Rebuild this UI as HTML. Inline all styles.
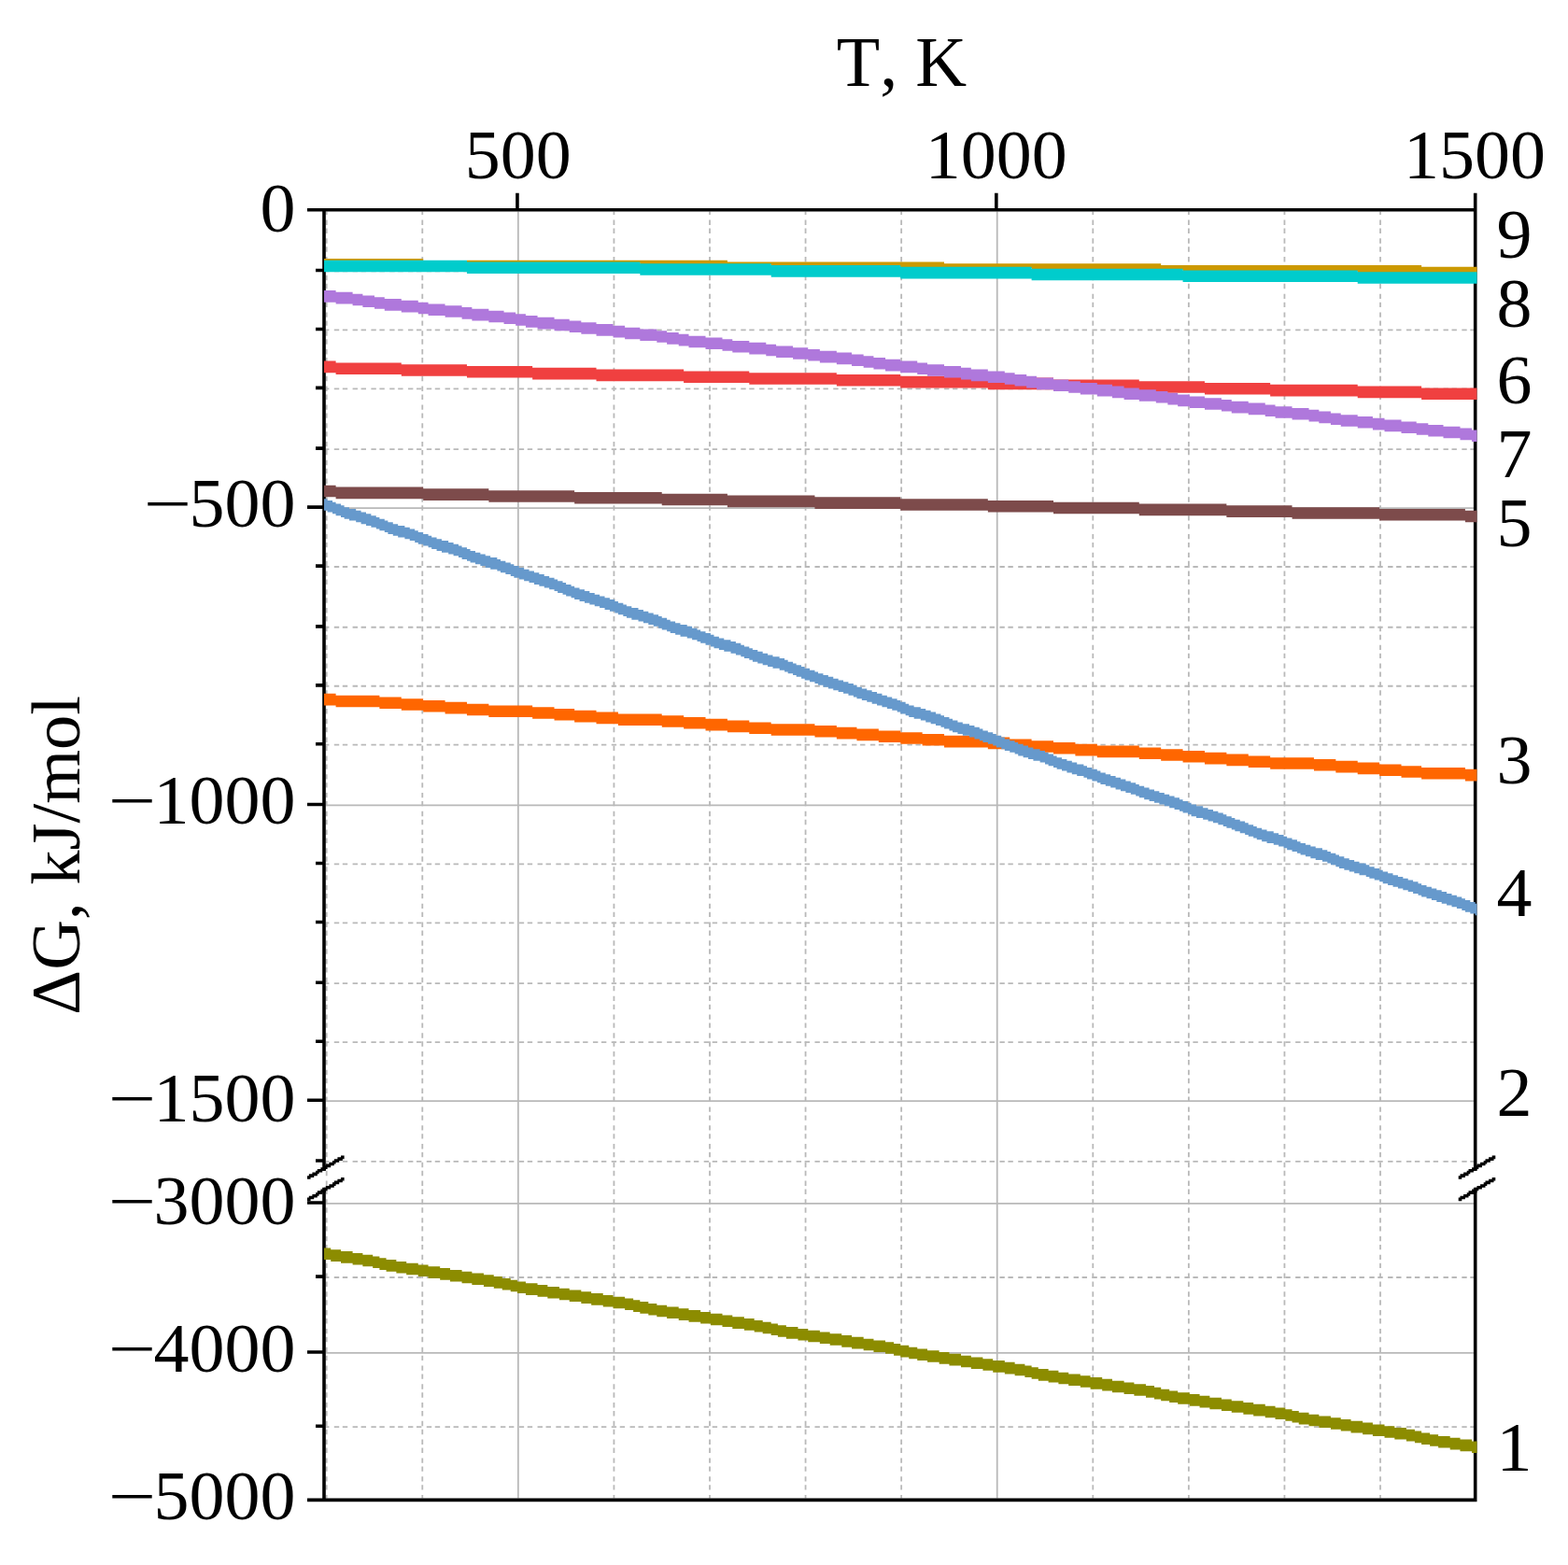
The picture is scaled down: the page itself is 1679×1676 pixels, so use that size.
<!DOCTYPE html>
<html lang="en"><head><meta charset="utf-8"><title>ΔG, kJ/mol vs T, K</title>
<style>
html,body{margin:0;padding:0;background:#fff}
body{width:1679px;height:1676px;overflow:hidden}
svg{display:block}
text{font-family:"Liberation Serif","DejaVu Serif",serif;font-size:76px;fill:#000;font-kerning:none}
</style>
</head><body>
<svg width="1679" height="1676" viewBox="0 0 1679 1676" role="img" aria-label="ΔG, kJ/mol versus T, K">
<rect x="0" y="0" width="1679" height="1676" fill="#fff"/>
<g transform="translate(-0.315 -0.18) scale(1.79956 1.79906)">
<g stroke="#b9b9b9" stroke-width="1" fill="none">
<g stroke-dasharray="3 2 3 3" stroke-dashoffset="6">
<path d="M194.5 126V892"/>
<path d="M251.5 126V892"/>
<path d="M365.5 126V892"/>
<path d="M422.5 126V892"/>
<path d="M479.5 126V892"/>
<path d="M536.5 126V892"/>
<path d="M650.5 126V892"/>
<path d="M707.5 126V892"/>
<path d="M764.5 126V892"/>
<path d="M821.5 126V892"/>
<path d="M194 161.5H877"/>
<path d="M194 196.5H877"/>
<path d="M194 231.5H877"/>
<path d="M194 267.5H877"/>
<path d="M194 337.5H877"/>
<path d="M194 373.5H877"/>
<path d="M194 408.5H877"/>
<path d="M194 443.5H877"/>
<path d="M194 514.5H877"/>
<path d="M194 549.5H877"/>
<path d="M194 585.5H877"/>
<path d="M194 620.5H877"/>
<path d="M194 691.5H877"/>
<path d="M194 760.5H877"/>
<path d="M194 849.5H877"/>
</g>
<path d="M308.5 126V892"/>
<path d="M593.5 126V892"/>
<path d="M194 302.5H877"/>
<path d="M194 479.5H877"/>
<path d="M194 655.5H877"/>
<path d="M194 716.5H877"/>
<path d="M194 805.5H877"/>
</g>
<g fill="#000">
<path d="M183 124H879V126H183ZM183 892H879V894H183ZM192 124H194V697H192ZM192 707H194V894H192ZM877 115H879V697H877ZM877 707H879V894H877ZM307 115H309V125H307ZM592 115H594V125H592ZM183 301H193V303H183ZM183 478H193V480H183ZM183 654H193V656H183ZM183 715H193V717H183ZM183 804H193V806H183ZM188 160H193V162H188ZM188 195H193V197H188ZM188 230H193V232H188ZM188 266H193V268H188ZM188 336H193V338H188ZM188 372H193V374H188ZM188 407H193V409H188ZM188 442H193V444H188ZM188 513H193V515H188ZM188 548H193V550H188ZM188 584H193V586H188ZM188 619H193V621H188ZM188 690H193V692H188ZM188 759H193V761H188ZM188 848H193V850H188Z"/>
<path d="M183 700L184 700L184 699L186 699L186 698L188 698L188 697L189 697L189 696L191 696L191 695L193 695L193 694L194 694L194 693L196 693L196 692L198 692L198 691L199 691L199 690L201 690L201 689L203 689L203 688L205 688L205 690L204 690L204 691L202 691L202 692L200 692L200 693L199 693L199 694L197 694L197 695L195 695L195 696L194 696L194 697L192 697L192 698L190 698L190 699L189 699L189 700L187 700L187 701L185 701L185 702L183 702ZM183 713L184 713L184 712L186 712L186 711L188 711L188 710L189 710L189 709L191 709L191 708L193 708L193 707L194 707L194 706L196 706L196 705L198 705L198 704L199 704L199 703L201 703L201 702L203 702L203 701L205 701L205 703L204 703L204 704L202 704L202 705L200 705L200 706L199 706L199 707L197 707L197 708L195 708L195 709L194 709L194 710L192 710L192 711L190 711L190 712L189 712L189 713L187 713L187 714L185 714L185 715L183 715ZM868 700L869 700L869 699L871 699L871 698L873 698L873 697L874 697L874 696L876 696L876 695L878 695L878 694L879 694L879 693L881 693L881 692L883 692L883 691L884 691L884 690L886 690L886 689L888 689L888 688L890 688L890 690L889 690L889 691L887 691L887 692L885 692L885 693L884 693L884 694L882 694L882 695L880 695L880 696L879 696L879 697L877 697L877 698L875 698L875 699L874 699L874 700L872 700L872 701L870 701L870 702L868 702ZM868 713L869 713L869 712L871 712L871 711L873 711L873 710L874 710L874 709L876 709L876 708L878 708L878 707L879 707L879 706L881 706L881 705L883 705L883 704L884 704L884 703L886 703L886 702L888 702L888 701L890 701L890 703L889 703L889 704L887 704L887 705L885 705L885 706L884 706L884 707L882 707L882 708L880 708L880 709L879 709L879 710L877 710L877 711L875 711L875 712L874 712L874 713L872 713L872 714L870 714L870 715L868 715Z"/>
</g>
<g>
<path fill="#8c8c00" d="M193 743H197V744H203V745H210V746H216V747H222V748H226V749H230V750H236V751H242V752H249V753H255V754H262V755H268V756H275V757H281V758H288V759H294V760H299V761H304V762H308V763H313V764H320V765H326V766H333V767H339V768H346V769H352V770H359V771H365V772H372V773H377V774H381V775H386V776H391V777H397V778H404V779H410V780H417V781H423V782H430V783H436V784H443V785H449V786H454V787H459V788H463V789H468V790H475V791H481V792H488V793H494V794H501V795H507V796H514V797H520V798H527V799H532V800H536V801H541V802H546V803H552V804H559V805H565V806H572V807H578V808H585V809H591V810H598V811H604V812H610V813H614V814H618V815H624V816H630V817H636V818H643V819H649V820H656V821H662V822H669V823H675V824H682V825H687V826H691V827H696V828H701V829H708V830H714V831H720V832H727V833H733V834H740V835H746V836H753V837H759V838H765V839H769V840H773V841H779V842H785V843H792V844H798V845H804V846H811V847H817V848H824V849H830V850H837V851H842V852H846V853H851V854H856V855H863V856H869V857H876V858H879V865H876V864H869V863H863V862H856V861H851V860H846V859H842V858H837V857H830V856H824V855H817V854H811V853H804V852H798V851H792V850H785V849H779V848H773V847H769V846H765V845H759V844H753V843H746V842H740V841H733V840H727V839H720V838H714V837H708V836H701V835H696V834H691V833H687V832H682V831H675V830H669V829H662V828H656V827H649V826H643V825H636V824H630V823H624V822H618V821H614V820H610V819H604V818H598V817H591V816H585V815H578V814H572V813H565V812H559V811H552V810H546V809H541V808H536V807H532V806H527V805H520V804H514V803H507V802H501V801H494V800H488V799H481V798H475V797H468V796H463V795H459V794H454V793H449V792H443V791H436V790H430V789H423V788H417V787H410V786H404V785H397V784H391V783H386V782H381V781H377V780H372V779H365V778H359V777H352V776H346V775H339V774H333V773H326V772H320V771H313V770H308V769H304V768H299V767H294V766H288V765H281V764H275V763H268V762H262V761H255V760H249V759H242V758H236V757H230V756H226V755H222V754H216V753H210V752H203V751H197V750H193Z"/>
<path fill="#ff6600" d="M193 413H200V414H226V415H239V416H252V417H265V418H278V419H291V420H317V421H330V422H342V423H355V424H368V425H394V426H407V427H420V428H433V429H446V430H459V431H485V432H498V433H510V434H523V435H536V436H549V437H562V438H588V439H601V440H614V441H627V442H640V443H653V444H678V445H691V446H704V447H717V448H730V449H743V450H756V451H782V452H795V453H808V454H821V455H834V456H846V457H872V458H879V465H872V464H846V463H834V462H821V461H808V460H795V459H782V458H756V457H743V456H730V455H717V454H704V453H691V452H678V451H653V450H640V449H627V448H614V447H601V446H588V445H562V444H549V443H536V442H523V441H510V440H498V439H485V438H459V437H446V436H433V435H420V434H407V433H394V432H368V431H355V430H342V429H330V428H317V427H291V426H278V425H265V424H252V423H239V422H226V421H200V420H193Z"/>
<path fill="#6699cc" d="M193 297H195V298H198V299H200V300H203V301H205V302H208V303H212V304H215V305H218V306H221V307H224V308H226V309H229V310H231V311H234V312H237V313H241V314H244V315H247V316H249V317H252V318H255V319H257V320H260V321H263V322H267V323H270V324H273V325H275V326H278V327H280V328H283V329H286V330H289V331H292V332H296V333H298V334H301V335H304V336H306V337H309V338H312V339H315V340H318V341H321V342H324V343H327V344H330V345H332V346H335V347H337V348H340V349H342V350H345V351H348V352H351V353H354V354H357V355H360V356H363V357H366V358H368V359H371V360H373V361H376V362H380V363H383V364H386V365H389V366H392V367H394V368H397V369H399V370H402V371H405V372H409V373H412V374H415V375H417V376H420V377H423V378H425V379H428V380H431V381H435V382H438V383H441V384H443V385H446V386H448V387H451V388H454V389H457V390H460V391H464V392H467V393H469V394H472V395H474V396H477V397H479V398H482V399H485V400H487V401H490V402H493V403H496V404H499V405H502V406H505V407H508V408H510V409H513V410H516V411H519V412H522V413H525V414H528V415H531V416H534V417H536V418H539V419H541V420H544V421H548V422H551V423H554V424H557V425H560V426H562V427H565V428H567V429H570V430H573V431H577V432H580V433H583V434H585V435H588V436H591V437H593V438H596V439H598V440H601V441H604V442H606V443H609V444H612V445H615V446H619V447H622V448H624V449H627V450H629V451H632V452H635V453H638V454H641V455H645V456H647V457H650V458H653V459H655V460H658V461H661V462H664V463H667V464H670V465H673V466H676V467H678V468H681V469H684V470H687V471H690V472H693V473H696V474H699V475H702V476H704V477H707V478H709V479H712V480H716V481H719V482H722V483H725V484H728V485H730V486H733V487H735V488H738V489H741V490H743V491H746V492H748V493H751V494H754V495H758V496H761V497H764V498H766V499H769V500H772V501H774V502H777V503H780V504H783V505H787V506H790V507H792V508H795V509H797V510H800V511H803V512H806V513H809V514H813V515H815V516H818V517H821V518H823V519H826V520H829V521H832V522H835V523H838V524H841V525H844V526H846V527H849V528H852V529H855V530H858V531H861V532H864V533H867V534H870V535H872V536H875V537H878V538H879V545H878V544H875V543H872V542H870V541H867V540H864V539H861V538H858V537H855V536H852V535H849V534H846V533H844V532H841V531H838V530H835V529H832V528H829V527H826V526H823V525H821V524H818V523H815V522H813V521H809V520H806V519H803V518H800V517H797V516H795V515H792V514H790V513H787V512H783V511H780V510H777V509H774V508H772V507H769V506H766V505H764V504H761V503H758V502H754V501H751V500H748V499H746V498H743V497H741V496H738V495H735V494H733V493H730V492H728V491H725V490H722V489H719V488H716V487H712V486H709V485H707V484H704V483H702V482H699V481H696V480H693V479H690V478H687V477H684V476H681V475H678V474H676V473H673V472H670V471H667V470H664V469H661V468H658V467H655V466H653V465H650V464H647V463H645V462H641V461H638V460H635V459H632V458H629V457H627V456H624V455H622V454H619V453H615V452H612V451H609V450H606V449H604V448H601V447H598V446H596V445H593V444H591V443H588V442H585V441H583V440H580V439H577V438H573V437H570V436H567V435H565V434H562V433H560V432H557V431H554V430H551V429H548V428H544V427H541V426H539V425H536V424H534V423H531V422H528V421H525V420H522V419H519V418H516V417H513V416H510V415H508V414H505V413H502V412H499V411H496V410H493V409H490V408H487V407H485V406H482V405H479V404H477V403H474V402H472V401H469V400H467V399H464V398H460V397H457V396H454V395H451V394H448V393H446V392H443V391H441V390H438V389H435V388H431V387H428V386H425V385H423V384H420V383H417V382H415V381H412V380H409V379H405V378H402V377H399V376H397V375H394V374H392V373H389V372H386V371H383V370H380V369H376V368H373V367H371V366H368V365H366V364H363V363H360V362H357V361H354V360H351V359H348V358H345V357H342V356H340V355H337V354H335V353H332V352H330V351H327V350H324V349H321V348H318V347H315V346H312V345H309V344H306V343H304V342H301V341H298V340H296V339H292V338H289V337H286V336H283V335H280V334H278V333H275V332H273V331H270V330H267V329H263V328H260V327H257V326H255V325H252V324H249V323H247V322H244V321H241V320H237V319H234V318H231V317H229V316H226V315H224V314H221V313H218V312H215V311H212V310H208V309H205V308H203V307H200V306H198V305H195V304H193Z"/>
<path fill="#7d4b4b" d="M193 289H200V290H252V291H291V292H342V293H394V294H433V295H485V296H536V297H588V298H627V299H678V300H730V301H769V302H821V303H872V304H879V311H872V310H821V309H769V308H730V307H678V306H627V305H588V304H536V303H485V302H433V301H394V300H342V299H291V298H252V297H200V296H193Z"/>
<path fill="#f04040" d="M193 215H200V216H239V217H278V218H317V219H355V220H407V221H446V222H498V223H536V224H588V225H627V226H678V227H717V228H756V229H808V230H846V231H879V238H846V237H808V236H756V235H717V234H678V233H627V232H588V231H536V230H498V229H446V228H407V227H355V226H317V225H278V224H239V223H200V222H193Z"/>
<path fill="#af78dc" d="M193 173H200V174H210V175H216V176H223V177H229V178H239V179H249V180H255V181H265V182H275V183H281V184H291V185H300V186H307V187H313V188H320V189H330V190H339V191H346V192H355V193H365V194H372V195H381V196H391V197H397V198H404V199H410V200H420V201H430V202H436V203H446V204H456V205H462V206H472V207H481V208H488V209H498V210H507V211H514V212H520V213H527V214H536V215H546V216H552V217H562V218H572V219H578V220H588V221H598V222H604V223H611V224H617V225H627V226H636V227H643V228H653V229H662V230H669V231H678V232H688V233H695V234H701V235H708V236H717V237H727V238H733V239H743V240H753V241H759V242H769V243H779V244H785V245H792V246H798V247H808V248H817V249H824V250H834V251H843V252H850V253H859V254H869V255H876V256H879V263H876V262H869V261H859V260H850V259H843V258H834V257H824V256H817V255H808V254H798V253H792V252H785V251H779V250H769V249H759V248H753V247H743V246H733V245H727V244H717V243H708V242H701V241H695V240H688V239H678V238H669V237H662V236H653V235H643V234H636V233H627V232H617V231H611V230H604V229H598V228H588V227H578V226H572V225H562V224H552V223H546V222H536V221H527V220H520V219H514V218H507V217H498V216H488V215H481V214H472V213H462V212H456V211H446V210H436V209H430V208H420V207H410V206H404V205H397V204H391V203H381V202H372V201H365V200H355V199H346V198H339V197H330V196H320V195H313V194H307V193H300V192H291V191H281V190H275V189H265V188H255V187H249V186H239V185H229V184H223V183H216V182H210V181H200V180H193Z"/>
<path fill="#cc9900" d="M193 154L252 154L252 155.6L193 155.6ZM278 155L433 155L433 156L562 156L562 157L691 157L691 158L846 158L846 159L879 159L879 162.6L808 162.6L808 161.6L704 161.6L704 160.6L614 160.6L614 159.6L536 159.6L536 158.6L459 158.6L459 157.6L381 157.6L381 156.6L278 156.6Z"/>
<path fill="#00cccc" d="M193 155H278V156H381V157H459V158H536V159H614V160H704V161H808V162H879V169H808V168H704V167H614V166H536V165H459V164H381V163H278V162H193Z"/>
</g>
</g>
<g>
<text transform="translate(965.4 91.9)" text-anchor="middle">T, K</text>
<text transform="translate(554.8 191.4) scale(1 0.97)" text-anchor="middle">500</text>
<text transform="translate(1066.8 191.4) scale(1 0.97)" text-anchor="middle">1000</text>
<text transform="translate(1579 191.4) scale(1 0.97)" text-anchor="middle">1500</text>
<text transform="translate(316.6 247.6) scale(1 0.97)" text-anchor="end">0</text>
<text transform="translate(316.6 563.99) scale(1 0.97)" text-anchor="end"><tspan textLength="51.4" lengthAdjust="spacingAndGlyphs">−</tspan><tspan dx="-2.5">500</tspan></text>
<text transform="translate(316.6 882.42) scale(1 0.97)" text-anchor="end"><tspan textLength="51.4" lengthAdjust="spacingAndGlyphs">−</tspan><tspan dx="-2.5">1000</tspan></text>
<text transform="translate(316.6 1200.7) scale(1 0.97)" text-anchor="end"><tspan textLength="51.4" lengthAdjust="spacingAndGlyphs">−</tspan><tspan dx="-2.5">1500</tspan></text>
<text transform="translate(316.6 1311.15) scale(1 0.97)" text-anchor="end"><tspan textLength="51.4" lengthAdjust="spacingAndGlyphs">−</tspan><tspan dx="-2.5">3000</tspan></text>
<text transform="translate(316.6 1468.91) scale(1 0.97)" text-anchor="end"><tspan textLength="51.4" lengthAdjust="spacingAndGlyphs">−</tspan><tspan dx="-2.5">4000</tspan></text>
<text transform="translate(316.6 1627.08) scale(1 0.97)" text-anchor="end"><tspan textLength="51.4" lengthAdjust="spacingAndGlyphs">−</tspan><tspan dx="-2.5">5000</tspan></text>
<text transform="translate(1621.5 275.6) scale(1 0.97)" text-anchor="middle">9</text>
<text transform="translate(1621.5 349.6) scale(1 0.97)" text-anchor="middle">8</text>
<text transform="translate(1621.5 432.2) scale(1 0.97)" text-anchor="middle">6</text>
<text transform="translate(1621.5 510.6) scale(1 0.97)" text-anchor="middle">7</text>
<text transform="translate(1621.5 584.6) scale(1 0.97)" text-anchor="middle">5</text>
<text transform="translate(1621.5 838.6) scale(1 0.97)" text-anchor="middle">3</text>
<text transform="translate(1621.5 980.8) scale(1 0.97)" text-anchor="middle">4</text>
<text transform="translate(1621.5 1195.4) scale(1 0.97)" text-anchor="middle">2</text>
<text transform="translate(1621.5 1574.6) scale(1 0.97)" text-anchor="middle">1</text>
<text transform="translate(85 915.8) rotate(-90) scale(0.98 0.98)" text-anchor="middle">ΔG, kJ/mol</text>
</g>
</svg>
</body></html>
